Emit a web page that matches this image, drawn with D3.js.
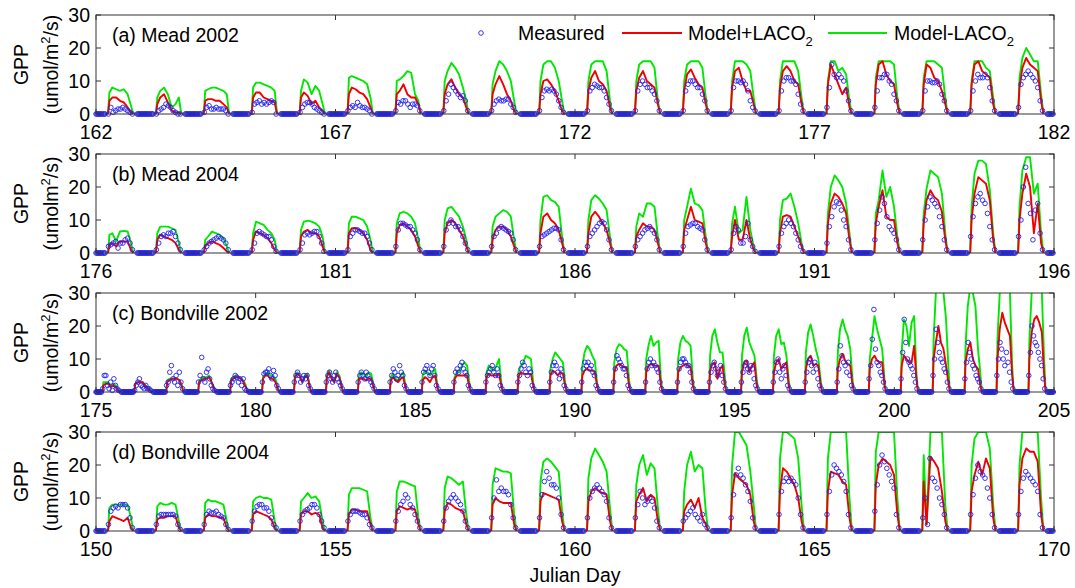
<!DOCTYPE html>
<html>
<head>
<meta charset="utf-8">
<script src="https://d3js.org/d3.v7.min.js"></script>
<style>body{margin:0;background:#fff}</style>
</head>
<body>
<script>
// time of day (fraction of day) where the model lines start/end at 0 and the 7 daytime values
const lineTimeMead = [0.25, 0.28, 0.34, 0.42, 0.50, 0.58, 0.66, 0.73, 0.78];
const lineTimeBond = [0.20, 0.23, 0.30, 0.38, 0.46, 0.54, 0.62, 0.69, 0.74];
// time of day of the 11 daytime measured points
const measTimeMead = [0.26, 0.31, 0.36, 0.41, 0.46, 0.51, 0.56, 0.61, 0.66, 0.71, 0.76];
const measTimeBond = [0.21, 0.26, 0.31, 0.36, 0.41, 0.46, 0.51, 0.56, 0.61, 0.66, 0.71];
// night time measured points (GPP = 0)
const nightTimeMead = [0.00, 0.02, 0.04, 0.06, 0.08, 0.10, 0.12, 0.15, 0.17, 0.19, 0.86, 0.88, 0.90, 0.92, 0.94, 0.96, 0.98];
const nightTimeBond = [0.00, 0.02, 0.04, 0.06, 0.08, 0.10, 0.12, 0.15, 0.17, 0.79, 0.81, 0.84, 0.86, 0.88, 0.90, 0.92, 0.94, 0.96, 0.98];

// (a) Mead 2002
const daysA = [162,163,164,165,166,167,168,169,170,171,172,173,174,175,176,177,178,179,180,181];
const greenA = [
 [6.5,8,7.5,7,7.5,6,2.5],[5,7,8,6,2,3,5],[7,7.5,8,8,7.5,7,6],[8,9.5,9.5,9,8.5,8,7],[7,10.5,9.5,6,8.5,7,3],
 [11,11.5,11,10.5,10,9,5],[10,10.5,11.5,13,12.5,6,4],[10,13,15.5,14,12,8,4],[9,13,16,15,13,10,4],[10,15,16,16,14,10,4],
 [10,15,16,16,16,13,4],[10,15,16,16,16,14,4],[10,15,16,16,16,14,5],[10,16,16,16,15,13,5],[10,16,16,16,16,13,5],
 [10,16,16,13,14,12,4],[11,16,16,16,16,15,5],[11,16,16,16,15,14,5],[10,16,16,16,14,13,5],[11,17,20,18,16,16,6]];
const redA = [
 [4,5,5,4,3.5,2,0.5],[3,5,6,3.5,1,0.5,0.5],[4,4.5,4.5,4,4,3,2],[5,6.5,6.5,5,4.5,4,3.5],[5,6.5,5.5,3,4,2,1],
 [6,8,7.5,6.5,6,4.5,2],[6,7,9,6,5,5,3],[6,9,10.5,8,6,5,2],[6,9,11.5,9,6,4,1],[6,10,10.5,9,7,4,1],
 [7,11,13,10,9,7,2],[7,11,13,10,9,8,3],[7,12,13.5,11,9,8,3],[8,13,14,10,7,7,3],[8,13,14.5,13,10,9,3],
 [9,15,12,9,6,8,2],[9,15,16,12,10,9,3],[9,15,14,11,10,7,3],[9,15,16,13,12,11,3],[8,14,17,15,14,13,4]];
const measA = [
 [0,2,0.5,1,1.5,1.5,2,1.5,1,0.5,0],[0,1,1.5,2,3,2.5,2,1,0.5,0,0],[0.5,2,2.5,1.5,1.5,2,1.5,1.5,1.5,1,0],
 [0.5,3,3.5,4,3,3.5,3,3.5,4,3.5,0],[0.5,2,3,3.5,3.5,3,2,1.5,1,0.5,0],[1,2,2.5,2,3.5,2.5,2,2,1.5,1,0],
 [1,3.5,3,4,4,3,2,3,3,2.5,1],[1,4,6,9,8,7,6,5,5.5,4,1],[1,3,4,4.5,4,4,4.5,4.5,3,2,0.5],
 [1,5,7,7.5,7,7.5,7,6,4,2,0.5],[1,7,8,9,8.5,8,8,7,5,3,1],[1,7,9,10,9,8,8,7,6,4,1],
 [1,7,9,10,10,9,8,8,6,4,1],[1,8,10,10,9.5,10,9,7,4,2,1],[1,7,10,11,11,10,10,9,6,3,1],
 [2,8,15,12,11,12,11,10,7,4,1],[2,7,11,11,12,12,10,9,6,4,1],[1,7,10,10,9.5,9.5,10,9,6,4,1],
 [1,7,10,12,11,11,12,11,8,4,1],[2,9,11,12,13,12,11,10,8,4,1]];

// (b) Mead 2004
const daysB = [176,177,178,179,180,181,182,183,184,185,186,187,188,189,190,191,192,193,194,195];
const greenB = [
 [5.5,6,3.5,6.5,6.7,6.5,3],[6,8,8,8,7.5,7,3],[4,5,6.5,6,5.5,4.5,2],[6,9.5,9,8.5,7,6,4],[7,9.5,9.8,9.5,9,8,5],
 [9,11,11,10.5,10,8,4],[9,12,12.5,12,11,9,4],[10,13.5,14,12.5,11,8,4],[8,11,12,13,12.5,11,4],[10,17,17.5,16,15.5,14,5],
 [10,16,17.5,16.5,15,13,5],[8,12,11,15,15,14,5],[10,14,19.5,15,14.5,13,5],[9,14,6,7,17,7,2],[10,16,16.5,18,14,9,3],
 [12,20,23.5,22,20,15,6],[12,16,25,17,20,14,5],[12,19.5,25,24,23,18,6],[14,24,28,28,27,19,6],[14,25,29,29,18,21,6]];
const redB = [
 [2.5,3,2,3.5,3.5,3.5,1],[4,5.5,5,4.5,4,3,1],[2,3,3.5,3,2.5,1.5,0.5],[4,6.5,6,5.5,4.5,3,1],[5,6.5,7,6,6,5,2],
 [6,7.5,7.5,7,6,4,1],[6,8.5,9,8,7,5,2],[6,9,10,9,7,5,2],[4,7,8,8,7,5,2],[6,11,12,10,9,7,3],
 [6,11,12.5,11,9,7,3],[5,7,9,8,8,7,3],[7,10,14,10,9.5,9,3],[5,10,4,4,10,4,1],[6,11,11.5,11,8,5,2],
 [9,15,18,17,15,12,4],[9,14,19,11,10,10,3],[9,16,19,17,16,12.5,4],[10,18,23,22,21,16,4],[10,18,24,20,6,15,3]];
const measB = [
 [2,2.5,3,3.5,1.5,3,3,4,4.5,3,1],[1,3,5,5.5,5,6,6,6.5,5,3,1],[1,2,3,3.5,4,4.5,5,4.5,4,3,1],
 [1,3,6,6.5,6,5.5,5,5,4,2,0.5],[1,3,5.5,6,5.5,6,6.5,6.5,5,3,0.5],[1,5,6,7,7,6.5,6,6,5,3,1],
 [2,7,9,9,8.5,8,8,7,6,4,1],[2,7,9,10,9,8,8,7,5,3,1],[2,5,6,7.5,8,7.5,7,6.5,6,4,1],
 [2,5,5.5,6,6.5,7,7.5,7.5,7,4,1],[2,5,6,7,8,9,9.5,9,7,4,1],[2,4,5,6,7,7.5,8,7,6,4,1],
 [2,6,8,8.5,9,9,8,7.5,7,4,1],[1,6,8,7,3,3,5,9,4,2,0.5],[2,6,8,9,10,9,8,6,4,2,0.5],
 [3,8,11,14,15.5,15,13,10,8,4,1],[4,9,13,17,15,11,8,7,6,4,1],[4,10,14,17,16,15,14,11,8,4,1],
 [5,11,15,17,18,16,15,12,8,4,1],[5,10,20,26,15,12,4,13,15,6,1]];

// (c) Bondville 2002
const daysC = [175,176,177,178,179,180,181,182,183,184,185,186,187,188,189,190,191,192,193,194,195,196,197,198,199,200,201,202,203,204];
const greenC = [
 [3,3,3,2,2.5,2,1],[2.5,3,3,3,2,1.5,1],[3.5,4,4,4,4,3.5,2],[3.5,4,4.5,4.5,5,3,1.5],[4,4.5,5,4.5,4,3.5,2],
 [4.5,5.5,6,5,5,4,1.5],[5,6,5,3,5,5.5,2],[5,6.5,4.5,3,6,5,2],[5,6,5.5,4.5,6,5.5,2],[4.5,5.5,4,3.5,5,6,2],
 [5,6.5,6,5,6,7,2],[4.5,6,6,8,9,8,3],[6,8,7,6.5,8,10,3],[6,8,9,11,10.5,10,3],[7,10,12,11,10,9,3],
 [8,12,14,13,11,9.5,3],[9,13,14.5,14,13,12.5,4],[10,14,17,14,15,15.5,4],[10,15,17,15.5,15,14,4],[11,17,19,15,12,12,5],
 [11,17,19.5,15,13,11,4],[11,17,19,14.5,15,11,4],[12,18,20.5,17,13,10,4],[12,19,22,19,17,13,4],[10,16,23,19,16,13,4],
 [12,22,20,14,21,23,6],[16,30,32,32,30,22,8],[14,26,32,30,26,13,6],[16,30,32,32,32,30,8],[16,30,32,32,32,30,10]];
const redC = [
 [2,2.5,2.5,1.5,2,1.5,0.5],[2.5,3,3,3,2,1,0.5],[3,3.5,4,4,4,3.5,1.5],[3,3.5,4,4,4.5,3,1],[3.5,4,4.5,4.5,4,3,1.5],
 [4,5,5,4,4,3,1],[4.5,5.5,5,3,4.5,5,1.5],[4.5,6,4,3,5.5,4.5,1.5],[4,4,4,3.5,4,4,1.5],[3.5,4.5,3.5,3,4,4.5,1.5],
 [3.5,4.5,4,3,4.5,5,1.5],[4,5,5,5,5,5,1.5],[4.5,5.5,5,5,5,5.5,2],[4.5,6,5.5,5.5,5.5,5.5,2],[5,6.5,6,5,6,5.5,2],
 [5,6.5,7,6.5,6.5,6,2],[6,8,8.5,8,7.5,7.5,2],[6,8,8.5,8,8,8,2],[6,7.5,8,8.5,8,7.5,2],[6.5,8.5,9,4,7,8,2],
 [6,9,9.5,6,8,9,2],[6,9,10,7,8,9,2],[7,10,11,8,8.5,8,2],[7,10,11.5,9.5,8.5,8,2],[7,10,11,9.5,9,9,2],
 [8,11,10,9,9,14,4],[10,15,20,15,13,8,3],[9,13,15,10,8,7,2],[10,19,24,21,19,17,5],[10,18,22,23,21,18,5]];
const measC = [
 [1,5,5,2,1,3,0.5,4,2,1,0.5],[0.5,2,3,4,2,1.5,1,2,1,1,0.5],[2,3,6,8,4,3,5,2,6,3,1],[3,5,10.5,4,3,6,7,4,2,1,0.5],
 [2,3,4,5,4.5,3,4,2,4,1,0.5],[3,5.5,6,6,7,5,4,6.5,5,2,1],[3,5,6,5,3,4,5,4,5,2,1],[3,5,6,4,3,5,6,4,3,2,1],
 [3,5,6,5,4,6,5,4,3,2,1],[3,5,7,6,4,5,8,6,5,2,1],[3,6,7,8,6,5,7,8,5,2,1],[3,6,7,6,8,9,7,6,5,2,1],
 [3,5,6,7,8,6,5,7,5,2,1],[3,5,7,9,8,6,5,7,6,2,1],[3,6,8,9,8,6,4,7,5,2,1],[3,7,9,8,9,7,8,6,5,2,1],
 [3,7,11,10,9,8,7,7,5,2,1],[3,7,9,10,8,9,8,7,6,3,1],[3,7,9,10,10,9,8,8,6,3,1],[3,6,8,9,7,5,6,8,5,3,1],
 [3,6,8,9,7,6,8,7,4,2,1],[3,6,9,10,6,4,7,8,5,2,1],[3,6,9,10,8,6,9,7,4,2,1],[3,7,14,11,9,8,6,9,5,2,1],
 [4,8,16,25,13,9,8,6,5,3,1],[4,12,22,15,10,9,8,7,5,3,1],[5,10,19,15,12,10,9,7,6,3,1],[4,9,15,12,10,8,7,5,4,3,1],
 [5,10,15,13,10,8,12,9,6,3,1],[5,12,20,17,15,14,12,10,8,4,1]];

// (d) Bondville 2004
const daysD = [150,151,152,153,154,155,156,157,158,159,160,161,162,163,164,165,166,167,168,169];
const greenD = [
 [7,8,8,8,8,8,4],[7.5,8.5,8,8,8.5,8,3],[8.5,9.5,9,9,8.5,8,3],[9,10,10.5,10,10,9.5,3],[9,10,11.5,10,10.5,9,3],
 [11,13,13,13,12.5,12,4],[12,15,15,14.5,14,13.5,4],[13,16.5,16,15,14,15,5],[14,19,18.5,18,18,17.5,5],[15,21,22,21,19.5,18,6],
 [16,22,25,23,21,18,7],[14,20,23,17,20.5,19,7],[12,20,24,18,20,19,6],[20,30,30,28,26,18,8],[22,30,30,29,28,22,8],
 [22,30,30,30,30,30,10],[24,30,30,30,30,30,10],[23,2,30,30,30,30,8],[20,28,30,30,30,25,8],[20,30,30,30,30,30,10]];
const redD = [
 [3,4.5,4,3.5,3,4,1],[3.5,4,4,4.5,4.5,4.5,1],[4,5,4.5,4.5,4,4,1],[5,6,5.5,5,4.5,3.5,1],[5,6,6,5,5.5,5,1],
 [5,6.5,6.5,6,6,6,2],[6,7.5,7,6.5,7,6.5,2],[6,8.5,8,7,6.5,6,2],[8,10,9,8.5,8.5,8.5,2],[9,11.5,11,10.5,10,9.5,3],
 [9,12,13,12,11.5,11,3],[9,11,13,9,11,10,3],[6,8,9.5,7,10,4,2],[11,17.5,16,15,14,11,3],[12,19,18,16,14,10,3],
 [12,18,17.5,17,15,14,4],[14,20,22,21,20,17,5],[15,2,22.5,21,19,12,3],[12,17,21,17,22,19,4],[14,22,25,24,24,21,5]];
const measD = [
 [2,6,7,7.5,7,8,8,8,7,4,1],[2,4.5,5,5,5,5,5,5,4.5,2,0.5],[2,5,6,5.5,5.5,6,5,4.5,4,2,0.5],
 [3,6,7.5,8,8,7,7,6,4,2,1],[3,5,6,6.5,7,8,8,7,5,3,1],[3,5,6,6,6,5.5,5,5,4,2,1],
 [3,6,8,9,11,10,8,7,5,3,1],[3,7,9,10,11,10,9,8,6,3,1],[4,10,15.5,12,13,12,12,11,8,4,1],
 [4,11,15,18,16,14,14,13,10,5,1],[4,10,12,13,14,13,12,11,9,4,1],[4,8,12,10,8,9,10,9,7,3,1],
 [3,4,5,6,7,5,4,3,5,2,1],[4,11,17,19,17,16,14,12,9,4,1],[5,12,15,16,15,16,15,14,10,5,1],
 [5,12,17,20,19,18,17,15,12,5,1],[6,14,20,23,21,19,17,15,13,5,1],[4,10,2,22,16,15,13,10,8,5,1],
 [5,11,16,20,18,17,16,13,10,5,1],[5,12,16,18,17,16,15,14,12,5,1]];

const yTicks = [0, 10, 20, 30];
const panelTitles = ["(a) Mead 2002", "(b) Mead 2004", "(c) Bondville 2002", "(d) Bondville 2004"];
const unitLabels = [["(umol/m", "/s)"], ["(umolm", "/s)"], ["(umol/m", "/s)"], ["(umol/m", "/s)"]];

const panels = [
  {days: daysA, green: greenA, red: redA, meas: measA, lt: lineTimeMead, mt: measTimeMead, nt: nightTimeMead},
  {days: daysB, green: greenB, red: redB, meas: measB, lt: lineTimeMead, mt: measTimeMead, nt: nightTimeMead},
  {days: daysC, green: greenC, red: redC, meas: measC, lt: lineTimeBond, mt: measTimeBond, nt: nightTimeBond},
  {days: daysD, green: greenD, red: redD, meas: measD, lt: lineTimeMead, mt: measTimeMead, nt: nightTimeMead}
];

const GREEN = "#00e800", RED = "#f00000", BLUE = "#2020f0";
const font = "'Liberation Sans', Arial, sans-serif";
const fs = 19.5;
const left = 96, right = 1054, ph = 99;
const tops = [15, 154, 293, 432];

const svg = d3.select("body").append("svg")
  .attr("width", 1075).attr("height", 588)
  .style("font-family", font);

panels.forEach(function(p, k) {
  const top = tops[k], bottom = top + ph;
  const d0 = p.days[0], d1 = p.days[0] + p.days.length;
  const x = d3.scaleLinear().domain([d0, d1]).range([left, right]);
  const y = d3.scaleLinear().domain([0, 30]).range([bottom, top]);
  const g = svg.append("g");

  g.append("clipPath").attr("id", "clip" + k)
    .append("rect").attr("x", left - 3).attr("y", top).attr("width", right - left + 6).attr("height", ph + 4);
  const plot = g.append("g").attr("clip-path", "url(#clip" + k + ")");

  const line = d3.line().x(d => x(d[0])).y(d => y(d[1]));
  // model lines, one path per day (zero at night)
  [[p.green, GREEN], [p.red, RED]].forEach(function(s) {
    s[0].forEach(function(vals, i) {
      const d = p.days[i];
      const pts = [[d + p.lt[0], 0]];
      vals.forEach((v, j) => pts.push([d + p.lt[j + 1], v]));
      pts.push([d + p.lt[8], 0]);
      plot.append("path").datum(pts)
        .attr("fill", "none").attr("stroke", s[1]).attr("stroke-width", 1.9)
        .attr("stroke-linejoin", "round").attr("d", line);
    });
  });

  // measured points
  const mpts = [];
  p.days.forEach(function(d, i) {
    p.nt.forEach(t => mpts.push([d + t, 0]));
    p.meas[i].forEach((v, j) => mpts.push([d + p.mt[j], v]));
  });
  plot.selectAll(null).data(mpts).enter().append("circle")
    .attr("cx", d => x(d[0])).attr("cy", d => y(d[1])).attr("r", 2.3)
    .attr("fill", "none").attr("stroke", BLUE).attr("stroke-width", 0.9);

  // frame and inward ticks
  g.append("rect").attr("x", left).attr("y", top).attr("width", right - left).attr("height", ph)
    .attr("fill", "none").attr("stroke", "#333").attr("stroke-width", 1);
  const xt = d3.range(d0, d1 + 1, 5);
  xt.forEach(function(t) {
    g.append("line").attr("x1", x(t)).attr("x2", x(t)).attr("y1", bottom).attr("y2", bottom - 5).attr("stroke", "#333");
    g.append("line").attr("x1", x(t)).attr("x2", x(t)).attr("y1", top).attr("y2", top + 5).attr("stroke", "#333");
    g.append("text").text(t).attr("x", x(t)).attr("y", bottom + 25)
      .attr("text-anchor", "middle").attr("font-size", fs);
  });
  yTicks.forEach(function(t) {
    g.append("line").attr("x1", left).attr("x2", left + 5).attr("y1", y(t)).attr("y2", y(t)).attr("stroke", "#333");
    g.append("line").attr("x1", right).attr("x2", right - 5).attr("y1", y(t)).attr("y2", y(t)).attr("stroke", "#333");
    g.append("text").text(t).attr("x", left - 6).attr("y", y(t) + 6.5)
      .attr("text-anchor", "end").attr("font-size", fs);
  });

  // panel title
  g.append("text").text(panelTitles[k]).attr("x", 112).attr("y", top + 27).attr("font-size", fs);

  // y labels
  const mid = (top + bottom) / 2;
  g.append("text").text("GPP").attr("font-size", fs).attr("text-anchor", "middle")
    .attr("transform", "translate(28," + mid + ") rotate(-90)");
  const u = g.append("text").attr("font-size", fs).attr("text-anchor", "middle")
    .attr("transform", "translate(58," + mid + ") rotate(-90)");
  u.append("tspan").text(unitLabels[k][0]);
  u.append("tspan").text("2").attr("font-size", 13).attr("dy", -8);
  u.append("tspan").text(unitLabels[k][1]).attr("dy", 8);
});

// legend in panel (a)
const leg = svg.append("g").attr("font-size", fs);
leg.append("circle").attr("cx", 481).attr("cy", 33).attr("r", 2.3)
  .attr("fill", "none").attr("stroke", BLUE).attr("stroke-width", 0.9);
leg.append("text").text("Measured").attr("x", 518).attr("y", 40);
leg.append("line").attr("x1", 622).attr("x2", 682).attr("y1", 33).attr("y2", 33).attr("stroke", RED).attr("stroke-width", 1.9);
const t1 = leg.append("text").attr("x", 688).attr("y", 40);
t1.append("tspan").text("Model+LACO");
t1.append("tspan").text("2").attr("font-size", 13).attr("dy", 6);
leg.append("line").attr("x1", 828).attr("x2", 887).attr("y1", 33).attr("y2", 33).attr("stroke", GREEN).attr("stroke-width", 1.9);
const t2 = leg.append("text").attr("x", 894).attr("y", 40);
t2.append("tspan").text("Model-LACO");
t2.append("tspan").text("2").attr("font-size", 13).attr("dy", 6);

svg.append("text").text("Julian Day").attr("x", 575).attr("y", 582)
  .attr("text-anchor", "middle").attr("font-size", fs);
</script>
</body>
</html>
